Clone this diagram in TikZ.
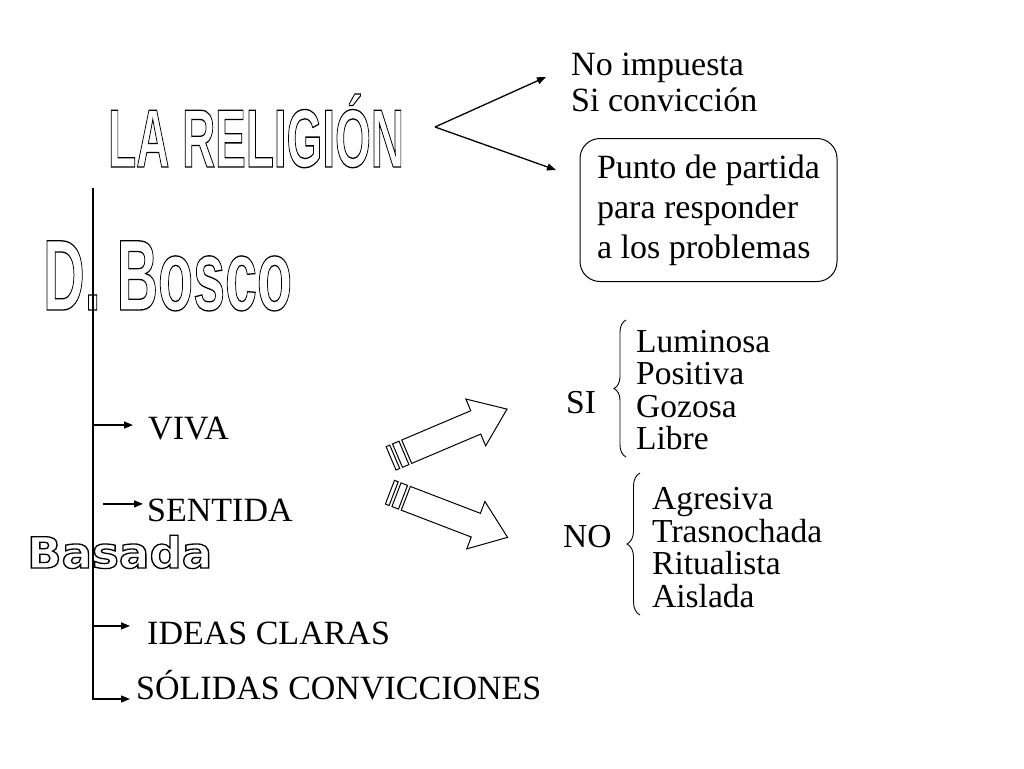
\documentclass[tikz,border=0pt]{standalone}
\usepackage{fontspec}
\usepackage{graphicx}
\setmainfont{Liberation Serif}
\newfontfamily\wordart{Liberation Sans}
\newfontfamily\wordartwide{DejaVu Sans}
\usetikzlibrary{arrows.meta,positioning,calc,decorations.pathreplacing}
\newcommand{\hollow}[1]{\special{pdf:literal direct 1 Tr 1.3 w}#1\special{pdf:literal direct 0 Tr}}

\begin{document}
\begin{tikzpicture}[x=1pt,y=-1pt,
  txt/.style={inner sep=0pt,anchor=base west,align=left,font=\fontsize{34}{36}\selectfont},
  lst/.style={txt,font=\fontsize{33.5}{32.5}\selectfont},
  arr/.style={line width=1.3pt,-{Triangle[length=9pt,width=7pt]}},
  brc/.style={line width=0.9pt,decorate,decoration={brace,amplitude=12pt}},
  bigarrow/.pic={
    \draw[line width=1pt] (-17,-12.7) rectangle (-13,12.7);
    \draw[line width=1pt] (-10,-12.7) rectangle (-3,12.7);
    \draw[line width=1pt] (0,12.7) -- (75,12.7) -- (75,25.4) -- (109,0) -- (75,-25.4) -- (75,-12.7) -- (0,-12.7) -- cycle;
  }]
\useasboundingbox (0,0) rectangle (1024,768);

% titles
\node[inner sep=0pt,anchor=base west] (rel) at (108,167) {\scalebox{0.557}[1]{\fontsize{82.4}{90}\wordart\bfseries\hollow{LA RELIGIÓN}}};
\node[inner sep=0pt,anchor=base west] (bosco) at (43,310) {\scalebox{0.571}[1]{\fontsize{100.6}{110}\wordart\bfseries\hollow{D. Bosco}}};
\node[inner sep=0pt,anchor=base west] (basada) at (27,568) {\scalebox{1.05}[1]{\fontsize{43}{48}\wordartwide\bfseries\hollow{Basada}}};

% top right (base = last line)
\node[txt] (imp) at (571,111) {No impuesta\\Si convicción};
\node[draw,line width=1pt,rounded corners=20pt,minimum width=257pt,minimum height=143pt,align=left,font=\fontsize{34}{40}\selectfont] (box) at (708.5,210) {Punto de partida\\para responder\\a los problemas};
\coordinate (fork) at (435,127);
\coordinate (up) at (546,77);
\coordinate (dn) at (556,170);
\draw[arr] (fork) -- (up);
\draw[arr] (fork) -- (dn);

% left list
\coordinate (top) at (93,188);
\node[txt] (viva) at (148,439) {VIVA};
\node[txt] (sent) at (147,521) {SENTIDA};
\node[txt] (ideas) at (147,644) {IDEAS CLARAS};
\node[txt] (sol) at (136,699) {SÓLIDAS CONVICCIONES};
\draw[arr] (top) -- (top |- sol.base west) -- ([xshift=-6pt]sol.base west);
\draw[arr] ($(top |- viva.west)+(0,-3)$) -- ($(viva.west)+(-15,-3)$);
\draw[arr] ($(sent.west)+(-44,-6)$) -- ($(sent.west)+(-4,-6)$);
\draw[arr] ($(top |- ideas.west)+(0,-7)$) -- ($(ideas.west)+(-17,-7)$);

% block arrows
\pic[rotate=23] at (406.7,451.7) {bigarrow};
\pic[rotate=-21] at (405.8,498.3) {bigarrow};

% SI / NO
\node[lst] (si) at (566,413) {SI};
\node[lst] (silst) at (636,449.5) {Luminosa\\Positiva\\Gozosa\\Libre};
\node[lst] (no) at (563,547) {NO};
\node[lst] (nolst) at (652,607) {Agresiva\\Trasnochada\\Ritualista\\Aislada};
\draw[brc] (626,457) -- (626,320);
\draw[brc,decoration={amplitude=13pt}] (640,615) -- (640,473);
\end{tikzpicture}
\end{document}
